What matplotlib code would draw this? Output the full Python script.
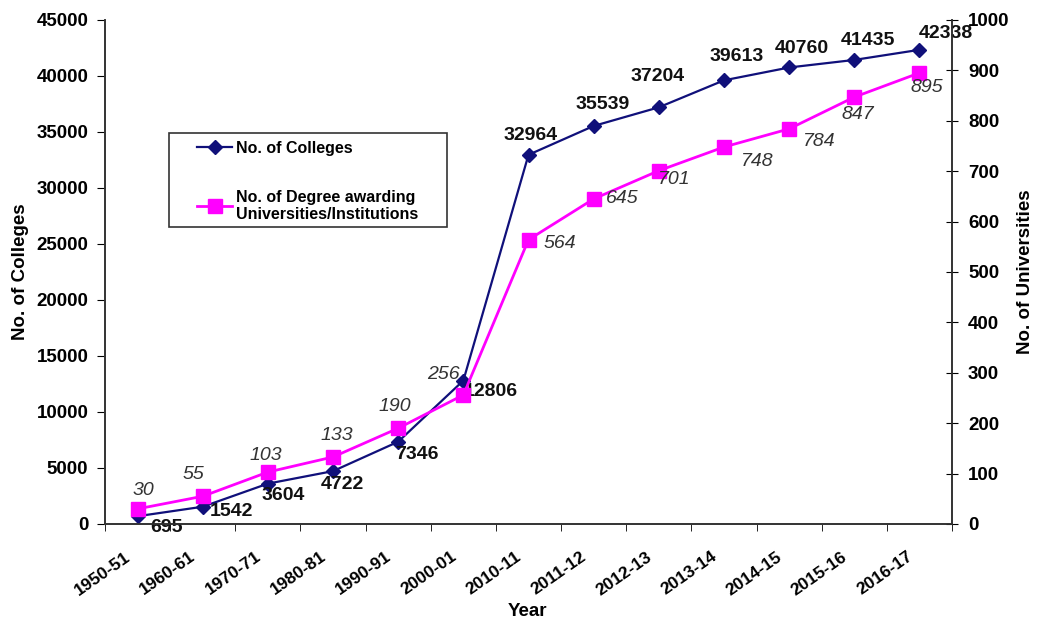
import matplotlib
matplotlib.use('Agg')

import matplotlib.pyplot as plt
import matplotlib.patches as patches
import numpy as np
from matplotlib.ticker import FixedLocator


years = ['1950-51', '1960-61', '1970-71', '1980-81', '1990-91', '2000-01',
         '2010-11', '2011-12', '2012-13', '2013-14', '2014-15', '2015-16',
         '2016-17']
colleges = [695, 1542, 3604, 4722, 7346, 12806, 32964, 35539, 37204,
            39613, 40760, 41435, 42338]
universities = [30, 55, 103, 133, 190, 256, 564, 645, 701, 748, 784, 847, 895]

# label offsets in pixels (dx, dy) relative to each point
college_offs = [(29, -11), (29, -5), (15, -12), (9, -13), (19, -13), (27, -11),
                (2, 19), (9, 21), (-1, 31), (13, 24), (13, 19), (14, 19),
                (26, 16)]
univ_offs = [(6, 18), (-9, 22), (-2, 17), (4, 21), (-3, 22), (-20, 20),
             (31, -4), (29, 0), (15, -9), (33, -14), (30, -13), (4, -17),
             (7, -15)]

plt.rcParams['font.family'] = ['Liberation Sans', 'DejaVu Sans']

W, H = 1037, 625
fig = plt.figure(figsize=(W / 100, H / 100), dpi=100)
ax = fig.add_axes([105 / W, 101 / H, 847 / W, 504 / H])
ax2 = ax.twinx()

xs = np.arange(len(years))

ax.plot(xs, colleges, color='#10107a', marker='D', markersize=7,
        linewidth=1.6, label='No. of Colleges', zorder=4)
ax2.plot(xs, universities, color='#FF00FF', marker='s', markersize=10,
         linewidth=2, label='No. of Degree awarding\nUniversities/Institutions',
         zorder=3)

for x, v, (dx, dy) in zip(xs, colleges, college_offs):
    ax.annotate(str(v), (x, v), xytext=(dx, dy), textcoords='offset pixels',
                ha='center', va='center', fontsize=14, fontweight='bold',
                color='#111111', zorder=6)
for x, v, (dx, dy) in zip(xs, universities, univ_offs):
    ax2.annotate(str(v), (x, v), xytext=(dx, dy), textcoords='offset pixels',
                 ha='center', va='center', fontsize=14, fontstyle='italic',
                 color='#333333', zorder=6)

ax.set_xlim(-0.5, len(years) - 0.5)
ax.set_ylim(0, 45000)
ax2.set_ylim(0, 1000)
ax.set_yticks(np.arange(0, 45001, 5000))
ax2.set_yticks(np.arange(0, 1001, 100))

# labels sit a little left of the category centre, as in the original
ax.set_xticks(xs - 0.2)
ax.set_xticklabels(years, rotation=35, ha='right', va='top',
                   rotation_mode='anchor', fontsize=12.5, fontweight='bold')
ax.xaxis.set_minor_locator(FixedLocator(np.arange(-0.5, len(years), 1)))
ax.tick_params(axis='x', which='major', length=0, pad=18)
ax.tick_params(axis='x', which='minor', length=5, direction='out')
ax.tick_params(axis='y', length=6, direction='out', labelsize=13.5, pad=6)
ax2.tick_params(axis='y', length=9, direction='inout', labelsize=13.5, pad=7)
for lab in ax.get_yticklabels() + ax2.get_yticklabels():
    lab.set_fontweight('bold')

for a in (ax, ax2):
    a.spines['top'].set_visible(False)
    for s in ('left', 'bottom', 'right'):
        a.spines[s].set_color('#333333')
        a.spines[s].set_linewidth(1.2)

ax.set_ylabel('No. of Colleges', fontsize=13.5, fontweight='bold')
ax.yaxis.set_label_coords((29 - 105) / 847, 0.5)
ax2.set_ylabel('No. of Universities', fontsize=13.5, fontweight='bold')
ax2.yaxis.set_label_coords((1017 - 105) / 847, 0.5)
ax.set_xlabel('Year', fontsize=13.5, fontweight='bold')
ax.xaxis.set_label_coords((527 - 105) / 847, (524 - 603) / 504)

h1, l1 = ax.get_legend_handles_labels()
h2, l2 = ax2.get_legend_handles_labels()
leg = ax2.legend(h1 + h2, l1 + l2, loc='upper left',
                 bbox_to_anchor=((197 - 105) / 847, (524 - 141) / 504),
                 prop={'weight': 'bold', 'size': 11.5}, frameon=False,
                 handlelength=2.2, handletextpad=0.25, labelspacing=2.1,
                 borderpad=0, borderaxespad=0)
leg.set_zorder(12)

box = patches.Rectangle((169 / W, 1 - 227 / H), (447 - 169) / W,
                        (227 - 133) / H, transform=fig.transFigure,
                        facecolor='white', edgecolor='#333333',
                        linewidth=1.2, zorder=11, clip_on=False)
ax2.add_patch(box)

fig.savefig('out.png', dpi=100)
plt.close()
